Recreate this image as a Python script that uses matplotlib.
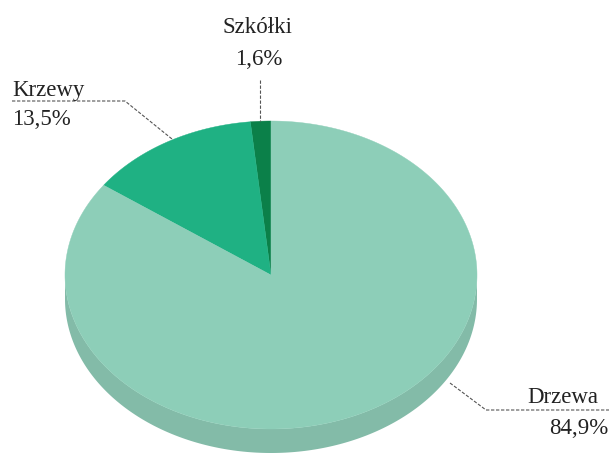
import numpy as np
import matplotlib.pyplot as plt
from matplotlib.patches import Polygon

# dane
kategorie = ['Szkółki', 'Krzewy', 'Drzewa']
udzialy = [1.6, 13.5, 84.9]
etykiety = ['1,6%', '13,5%', '84,9%']
kolory = ['#0B8049', '#1FB183', '#8DCEB8']
kolor_boku = '#83BBA8'

# geometria elipsy (w pikselach obrazka)
cx, cy = 271, 275
a, b = 206, 154
glebokosc = 24


def punkt(kat):
    t = np.radians(kat)
    return cx + a * np.cos(t), cy - b * np.sin(t)


fig = plt.figure(figsize=(6.09, 4.54), dpi=100)
ax = fig.add_axes([0, 0, 1, 1])
ax.set_xlim(0, 609)
ax.set_ylim(454, 0)
ax.axis('off')

# bok (przednia polowa)
th = np.linspace(180, 360, 200)
xs, ys = punkt(th)
bok = np.concatenate([np.column_stack([xs, ys]),
                      np.column_stack([xs[::-1], ys[::-1] + glebokosc])])
ax.add_patch(Polygon(bok, closed=True, facecolor=kolor_boku, edgecolor='none'))

# wierzch - wycinki od gory przeciwnie do ruchu wskazowek
start = 90.0
for u, kol in zip(udzialy, kolory):
    koniec = start + u / 100 * 360
    th = np.linspace(start, koniec, max(int(koniec - start) * 2, 4))
    xs, ys = punkt(th)
    pts = np.vstack([[cx, cy], np.column_stack([xs, ys])])
    ax.add_patch(Polygon(pts, closed=True, facecolor=kol, edgecolor=kol, lw=0.3))
    start = koniec

# linie odniesienia
styl = dict(color='#555555', lw=0.8, ls=(0, (3, 1.5)))
ax.plot([260, 260], [80, 121], **styl)
ax.plot([12, 125, 172], [101, 101, 139], **styl)
ax.plot([450, 486, 609], [383, 410, 410], **styl)

font = dict(family='Liberation Serif', fontsize=16.5, color='#222222')
ax.text(257, 33, kategorie[0], ha='center', va='baseline', **font)
ax.text(259, 65, etykiety[0], ha='center', va='baseline', **font)
ax.text(12, 96, kategorie[1], ha='left', va='baseline', **font)
ax.text(12, 125, etykiety[1], ha='left', va='baseline', **font)
ax.text(598, 403, kategorie[2], ha='right', va='baseline', **font)
ax.text(608, 434, etykiety[2], ha='right', va='baseline', **font)

fig.savefig('out.png', dpi=100)
